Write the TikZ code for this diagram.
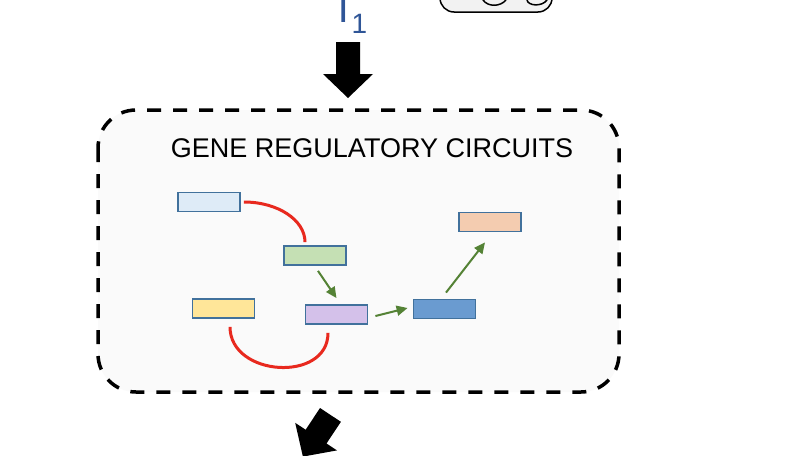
\documentclass[tikz,border=0pt]{standalone}
\usepackage{fontspec}
\setmainfont{Liberation Sans}
\usetikzlibrary{arrows.meta}
\definecolor{tblue}{HTML}{2F5597}
\definecolor{geneedge}{HTML}{41719C}
\definecolor{repred}{HTML}{E8291E}
\definecolor{actgreen}{HTML}{548235}
\definecolor{panelgray}{HTML}{FAFAFA}
\definecolor{pillgray}{HTML}{F2F2F2}
\definecolor{gblue}{HTML}{DEEBF7}
\definecolor{ggreen}{HTML}{C5E0B4}
\definecolor{gyellow}{HTML}{FFE699}
\definecolor{gpurple}{HTML}{D4C1EA}
\definecolor{gdblue}{HTML}{6A9BD0}
\definecolor{gpeach}{HTML}{F4CCB0}
\begin{document}
\begin{tikzpicture}[x=1pt,y=-1pt,
  gene/.style={draw=geneedge,line width=1.8pt,minimum width=62pt,minimum height=19pt,inner sep=0pt},
  repress/.style={draw=repred,line width=3pt},
  activate/.style={draw=actgreen,line width=2pt,-{Triangle[length=11pt,width=10pt]}},
  panel/.style={draw,line width=3.5pt,dash pattern=on 14pt off 12pt,rounded corners=38pt,fill=panelgray}]
\fill[white,use as bounding box] (0,0) rectangle (808,455);
\clip (0,0) rectangle (808,455);
% input
\node[anchor=base west,text=tblue,inner sep=0pt] (t1) at (331,23)
  {\fontsize{40}{48}\selectfont T\kern-4pt\raisebox{-10pt}{\fontsize{28}{30}\selectfont 1}};
\draw[fill=pillgray,line width=1.5pt,rounded corners=14pt] (440,-40) rectangle (552,12);
\draw[line width=1.5pt] (483,0) .. controls (488,7) and (500,7) .. (506,0);
\draw[line width=1.5pt] (527,0) .. controls (528,6) and (542,7) .. (547,0);
\fill (336,42) -- (360,42) -- (360,74) -- (373,74) -- (348,98) -- (323,74) -- (336,74) -- cycle;
% circuit
\draw[panel] (98,110) rectangle (619,392);
\node[anchor=base,font=\fontsize{27}{32}\selectfont] (title) at (372,157) {GENE REGULATORY CIRCUITS};
\node[gene,fill=gblue] (g1) at (209,202) {};
\node[gene,fill=ggreen] (g2) at (315,255.5) {};
\node[gene,fill=gyellow] (g3) at (223.5,308.5) {};
\node[gene,fill=gpurple] (g4) at (336.5,314.5) {};
\node[gene,fill=gdblue] (g5) at (444.5,309) {};
\node[gene,fill=gpeach] (g6) at (490,222) {};
\draw[repress] ([xshift=3pt]g1.east) .. controls +(34,0) and +(0,-22) .. ([xshift=-10pt,yshift=3pt]g2.north);
\draw[repress] ([xshift=6.5pt,yshift=-8pt]g3.south) .. controls +(0,50) and +(0,50) .. ([xshift=-8.5pt,yshift=-8pt]g4.south);
\draw[activate] ([xshift=3pt,yshift=-5pt]g2.south) -- ([yshift=6pt]g4.north);
\draw[activate] ([xshift=7pt,yshift=-1.5pt]g4.east) -- ([xshift=-5pt,yshift=1pt]g5.west);
\draw[activate] ([xshift=1.5pt,yshift=6pt]g5.north) -- ([xshift=-5pt,yshift=-10pt]g6.south);
% output
\fill (320,408) -- (340.9,421.8) -- (326.5,443.5) -- (337,450.4) -- (302.9,456.6)
  -- (295.2,422.9) -- (305.7,429.7) -- cycle;
\end{tikzpicture}
\end{document}
